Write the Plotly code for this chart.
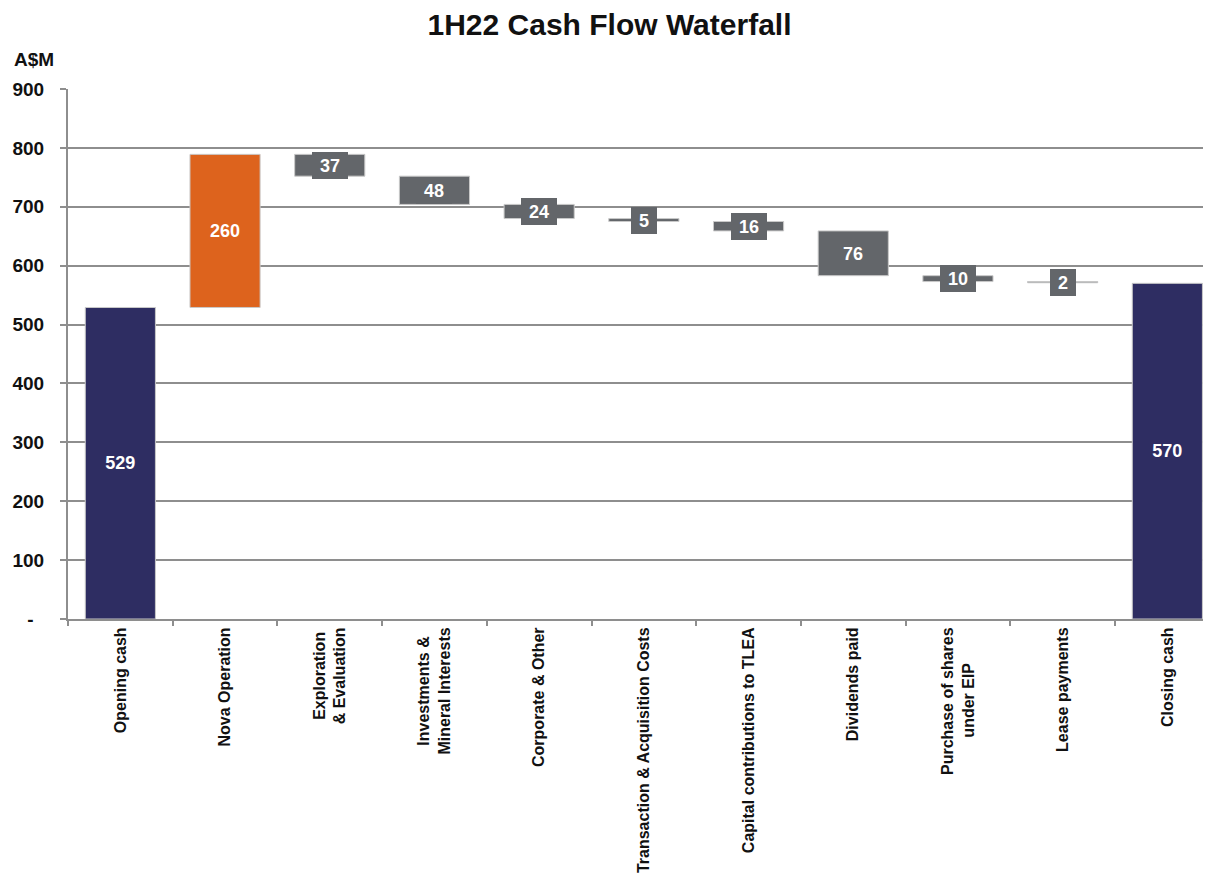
import plotly.graph_objects as go

# ---- data ----
NB = "\u00a0"
categories = [
    "Opening cash", "Nova Operation", "Exploration" + NB + "<br>& Evaluation",
    "Investments &" + NB * 2 + "<br>Mineral Interests", "Corporate & Other",
    "Transaction & Acquisition Costs", "Capital contributions to TLEA",
    "Dividends paid", "Purchase of shares<br>under EIP" + NB * 8, "Lease payments",
    "Closing cash",
]
measures = ["absolute", "relative", "relative", "relative", "relative", "relative",
            "relative", "relative", "relative", "relative", "absolute"]
values = [529, 260, -37, -48, -24, -5, -16, -76, -10, -2, 570]
y_ticks = [0, 100, 200, 300, 400, 500, 600, 700, 800, 900]
y_ticktext = ["-" + NB * 2, "100", "200", "300", "400", "500", "600", "700", "800", "900"]

NAVY = "#2E2D62"
ORANGE = "#DD631D"
GREY = "#63666A"
GRID = "#8E8E8E"
FONT = "Arial, Liberation Sans, sans-serif"

# page body adds an 8px margin; figure sized so it ends at 1211x879
W, H = 1203, 871
ML, MT, PH = 60, 81, 530
PW = W - ML

bar_text = [str(abs(v)) if (m == "absolute" or v > 0) else "" for m, v in zip(measures, values)]

fig = go.Figure()
fig.add_trace(go.Waterfall(
    x=categories,
    y=values,
    measure=measures,
    text=bar_text,
    textposition="inside",
    insidetextanchor="middle",
    textfont=dict(family=FONT, size=18, color="white", weight="bold"),
    increasing=dict(marker=dict(color=ORANGE, line=dict(color="#c9c9c9", width=1))),
    decreasing=dict(marker=dict(color=GREY, line=dict(color="#c9c9c9", width=1))),
    totals=dict(marker=dict(color=NAVY, line=dict(color="#c9c9c9", width=1))),
    connector=dict(visible=False),
    hoverinfo="skip",
))

running = 0
annotations = []
for cat, m, v in zip(categories, measures, values):
    if m == "absolute":
        running = v
        continue
    start = running
    running += v
    if v < 0:
        txt = str(abs(v))
        annotations.append(dict(
            x=cat, y=(start + running) / 2, xref="x", yref="y",
            text=txt, showarrow=False,
            font=dict(family=FONT, size=18, color="white", weight="bold"),
            bgcolor=GREY, borderpad=4, borderwidth=0,
            width=10 * len(txt) + 8, height=19,
            xanchor="center", yanchor="middle",
        ))

annotations.append(dict(
    x=-(ML - 4) / PW, y=1 + 29 / PH, xref="paper", yref="paper",
    text="A$M", showarrow=False, xanchor="left", yanchor="middle",
    font=dict(family=FONT, size=19, color="#111111", weight="bold"),
))

fig.update_layout(
    width=W, height=H,
    margin=dict(l=ML, r=0, t=MT, b=H - MT - PH),
    paper_bgcolor="white", plot_bgcolor="white",
    showlegend=False,
    waterfallgap=0.33,
    title=dict(text="1H22 Cash Flow Waterfall", x=0.5, xref="container",
               y=1 - 16 / H, yref="container", yanchor="middle", xanchor="center",
               font=dict(family=FONT, size=30, color="#111111", weight="bold")),
    annotations=annotations,
    font=dict(family=FONT),
)
fig.update_xaxes(
    type="category",
    range=[-0.5, -0.5 + PW / 104.7],
    tickangle=-90,
    tickfont=dict(family=FONT, size=16, color="#111111", weight="bold"),
    showline=True, linecolor=GRID, linewidth=2,
    ticks="outside", tickson="boundaries", ticklen=5, tickcolor=GRID, tickwidth=1.5,
    showgrid=False, automargin=False, zeroline=False,
)
fig.update_yaxes(
    range=[0, 900],
    tickvals=y_ticks, ticktext=y_ticktext,
    tickfont=dict(family=FONT, size=19, color="#111111", weight="bold"),
    showline=True, linecolor=GRID, linewidth=2,
    ticks="outside", ticklen=6, tickcolor=GRID, tickwidth=1.5,
    ticklabelstandoff=12,
    showgrid=True, gridcolor=GRID, gridwidth=1.5,
    zeroline=False, automargin=False,
)

fig.write_html("out.html")
